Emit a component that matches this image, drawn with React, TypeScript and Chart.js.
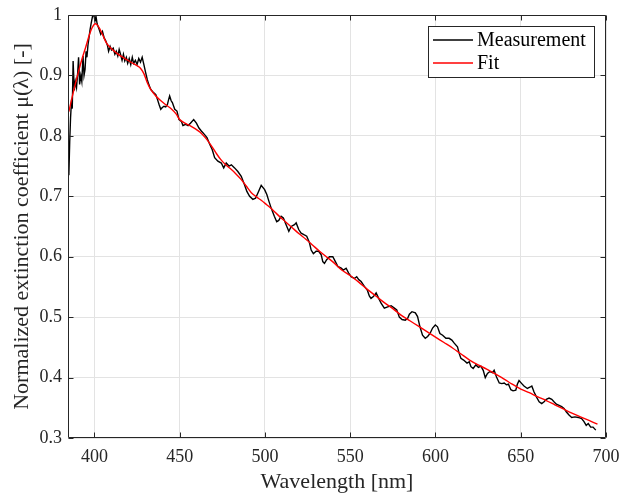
import React, { useEffect, useRef } from "react";
import { Chart, registerables } from "chart.js";

Chart.register(...registerables);

const seriesNames = ["Measurement", "Fit"];
const seriesColors = ["#000000", "#ff0000"];

const measWavelength = [
  385.0, 385.5, 386.0, 386.6, 387.0, 387.5, 388.2, 388.8, 389.5, 390.2, 390.7, 391.3, 392.0, 392.6, 393.3, 393.9,
  394.5, 395.1, 395.6, 396.2, 396.8, 397.4, 398.0, 398.9, 399.7, 400.3, 400.9, 401.6, 402.8, 403.7, 404.7, 405.7,
  406.7, 407.7, 408.3, 409.2, 410.0, 411.0, 412.0, 412.8, 413.7, 414.5, 415.3, 416.2, 417.0, 417.8, 418.7, 419.5,
  420.4, 421.3, 422.2, 423.0, 424.0, 425.0, 426.0, 427.0, 428.0, 429.0, 430.0, 431.0, 432.0, 433.0, 434.5, 436.0,
  437.0, 437.9, 438.9, 439.8, 440.8, 441.8, 442.8, 443.5, 444.1, 445.0, 445.7, 447.1, 448.4, 449.6, 451.0, 451.9,
  453.5, 454.9, 456.3, 458.2, 459.8, 461.3, 462.7, 464.6, 466.0, 467.6, 469.1, 470.5, 472.4, 474.4, 475.8, 477.3,
  478.9, 480.3, 482.2, 484.1, 486.1, 488.0, 489.4, 491.0, 492.9, 494.5, 495.8, 497.8, 499.8, 501.1, 502.3, 503.7,
  505.5, 506.9, 508.1, 509.5, 510.8, 512.4, 514.0, 515.4, 517.3, 518.3, 519.8, 521.2, 523.1, 524.5, 526.1, 527.1,
  528.4, 530.0, 531.5, 533.0, 533.9, 534.9, 536.2, 537.8, 539.8, 541.3, 542.7, 544.7, 546.0, 547.6, 549.1, 550.5,
  552.5, 553.8, 555.0, 556.4, 558.3, 560.0, 561.2, 562.2, 563.6, 565.2, 566.7, 568.1, 570.0, 572.0, 574.0, 575.9,
  577.3, 578.8, 580.4, 582.3, 583.7, 584.7, 586.2, 588.2, 589.5, 590.9, 592.4, 594.0, 595.4, 596.8, 598.3, 599.9,
  601.2, 602.6, 604.2, 606.1, 608.0, 609.6, 611.0, 612.9, 613.9, 614.9, 616.5, 618.5, 619.8, 620.8, 622.1, 623.7,
  625.2, 626.6, 628.0, 629.2, 630.5, 631.9, 633.4, 634.4, 635.8, 637.4, 638.9, 640.3, 641.6, 642.8, 644.2, 645.5,
  647.1, 648.0, 649.0, 650.6, 651.9, 653.9, 655.3, 656.5, 657.8, 659.2, 660.8, 662.3, 663.7, 665.0, 666.6, 668.2,
  669.5, 670.9, 672.5, 674.0, 675.4, 676.8, 678.3, 679.9, 681.8, 683.8, 685.7, 687.1, 688.4, 689.6, 691.0, 692.4,
  694.0,
];

const measValue = [
  0.735, 0.79, 0.83, 0.86, 0.845, 0.924, 0.875, 0.89, 0.88, 0.905, 0.93, 0.885, 0.9, 0.89, 0.932, 0.9,
  0.91, 0.94, 0.93, 0.95, 0.962, 0.975, 0.985, 0.998, 1.0, 0.99, 0.998, 0.985, 0.976, 0.968, 0.973, 0.962,
  0.957, 0.949, 0.94, 0.948, 0.942, 0.945, 0.935, 0.94, 0.932, 0.943, 0.935, 0.925, 0.935, 0.924, 0.93, 0.92,
  0.928, 0.918, 0.93, 0.92, 0.925, 0.918, 0.928, 0.922, 0.93, 0.918, 0.905, 0.893, 0.884, 0.877, 0.872, 0.868,
  0.86, 0.852, 0.844, 0.847, 0.849, 0.848, 0.852, 0.86, 0.866, 0.858, 0.855, 0.844, 0.841, 0.827, 0.824, 0.817,
  0.819, 0.817, 0.821, 0.827, 0.821, 0.813, 0.808, 0.802, 0.797, 0.786, 0.777, 0.764, 0.758, 0.755, 0.747, 0.755,
  0.75, 0.752, 0.747, 0.741, 0.733, 0.719, 0.708, 0.7, 0.695, 0.697, 0.705, 0.718, 0.711, 0.703, 0.692, 0.68,
  0.667, 0.658, 0.66, 0.667, 0.664, 0.653, 0.642, 0.65, 0.653, 0.656, 0.645, 0.639, 0.636, 0.634, 0.623, 0.611,
  0.605, 0.609, 0.609, 0.603, 0.592, 0.589, 0.595, 0.6, 0.6, 0.592, 0.584, 0.581, 0.578, 0.581, 0.573, 0.567,
  0.564, 0.567, 0.562, 0.559, 0.551, 0.545, 0.535, 0.531, 0.534, 0.54, 0.531, 0.523, 0.515, 0.517, 0.519, 0.515,
  0.512, 0.5, 0.496, 0.495, 0.498, 0.505, 0.509, 0.507, 0.501, 0.484, 0.47, 0.465, 0.468, 0.473, 0.482, 0.487,
  0.484, 0.473, 0.47, 0.465, 0.465, 0.462, 0.457, 0.451, 0.44, 0.432, 0.429, 0.424, 0.426, 0.418, 0.415, 0.421,
  0.417, 0.419, 0.412, 0.4, 0.407, 0.41, 0.408, 0.412, 0.401, 0.391, 0.39, 0.391, 0.388, 0.389, 0.38, 0.378,
  0.379, 0.389, 0.395, 0.39, 0.386, 0.382, 0.384, 0.386, 0.376, 0.368, 0.36, 0.357, 0.36, 0.364, 0.366, 0.364,
  0.36, 0.356, 0.354, 0.352, 0.349, 0.343, 0.338, 0.334, 0.335, 0.334, 0.332, 0.327, 0.321, 0.324, 0.318, 0.318,
  0.313,
];

const fitWavelength = [
  385, 387, 389, 391, 393, 395, 397, 398.5, 400, 401.5, 403, 405, 407, 410, 413, 416, 419, 422, 425, 427, 429,
  431, 433, 436, 439, 442, 445, 448, 450, 453, 456, 459, 462, 465, 468, 471, 474, 477, 480, 483, 486, 489, 492,
  495, 498, 501, 504, 508, 512, 516, 520, 524, 528, 532, 536, 540, 545, 550, 555, 560, 565, 570, 575, 580, 585,
  590, 595, 600, 605, 610, 615, 620, 625, 630, 635, 640, 645, 650, 655, 660, 665, 670, 675, 680, 685, 690, 695,
];

const fitValue = [
  0.84, 0.865, 0.888, 0.91, 0.93, 0.948, 0.967, 0.978, 0.985, 0.984, 0.978, 0.966, 0.954, 0.944, 0.937, 0.931,
  0.926, 0.921, 0.916, 0.912, 0.903, 0.888, 0.877, 0.866, 0.858, 0.851, 0.845, 0.836, 0.827, 0.821, 0.817, 0.812,
  0.806, 0.797, 0.786, 0.773, 0.761, 0.752, 0.745, 0.737, 0.728, 0.717, 0.706, 0.699, 0.693, 0.686, 0.679, 0.668,
  0.658, 0.648, 0.638, 0.629, 0.619, 0.609, 0.6, 0.591, 0.578, 0.569, 0.558, 0.546, 0.535, 0.524, 0.514, 0.503,
  0.494, 0.485, 0.476, 0.467, 0.458, 0.449, 0.439, 0.429, 0.421, 0.414, 0.406, 0.398, 0.389, 0.381, 0.375, 0.368,
  0.362, 0.355, 0.348, 0.341, 0.335, 0.329, 0.323,
];

const xTickValues = [400, 450, 500, 550, 600, 650, 700];
const yTickValues = [0.3, 0.4, 0.5, 0.6, 0.7, 0.8, 0.9, 1];
const xRange = [384.5, 700];
const yRange = [0.3, 1];
const xTitle = "Wavelength [nm]";
const yTitle = "Normalized extinction coefficient \u03bc(\u03bb) [-]";

const FONT = "'Liberation Serif', 'DejaVu Serif', serif";
const AXIS_COLOR = "#262626";

const framePlugin = {
  id: "matlabFrame",
  afterDraw(chart: any) {
    const { ctx, chartArea: a, scales } = chart;
    ctx.save();
    ctx.strokeStyle = AXIS_COLOR;
    ctx.lineWidth = 1;
    const L = Math.round(a.left) + 0.5;
    const R = Math.round(a.right) - 0.5;
    const T = Math.round(a.top) + 0.5;
    const B = Math.round(a.bottom) - 0.5;
    ctx.beginPath();
    ctx.rect(L, T, R - L, B - T);
    ctx.stroke();
    const tl = 5;
    ctx.beginPath();
    for (const v of xTickValues) {
      const px = Math.round(scales.x.getPixelForValue(v)) + 0.5;
      ctx.moveTo(px, B);
      ctx.lineTo(px, B - tl);
      ctx.moveTo(px, T);
      ctx.lineTo(px, T + tl);
    }
    for (const v of yTickValues) {
      const py = Math.round(scales.y.getPixelForValue(v)) + 0.5;
      ctx.moveTo(L, py);
      ctx.lineTo(L + tl, py);
      ctx.moveTo(R, py);
      ctx.lineTo(R - tl, py);
    }
    ctx.stroke();

    // legend box
    const bx = 428.5, by = 26.5, bw = 166, bh = 51;
    ctx.fillStyle = "#ffffff";
    ctx.fillRect(bx, by, bw, bh);
    ctx.strokeStyle = AXIS_COLOR;
    ctx.strokeRect(bx, by, bw, bh);
    const rows = [40, 63];
    ctx.font = `20px ${FONT}`;
    ctx.textBaseline = "middle";
    ctx.textAlign = "left";
    seriesNames.forEach((name, i) => {
      const ds = chart.data.datasets.find((d: any) => d.label === name);
      ctx.strokeStyle = ds.borderColor;
      ctx.lineWidth = 1.4;
      ctx.beginPath();
      ctx.moveTo(433, rows[i]);
      ctx.lineTo(473, rows[i]);
      ctx.stroke();
      ctx.fillStyle = "#000000";
      ctx.fillText(name, 477, rows[i] + 1);
    });
    ctx.restore();
  },
};

export default function App() {
  const canvasRef = useRef<HTMLCanvasElement | null>(null);

  useEffect(() => {
    if (!canvasRef.current) return;
    const measData = measWavelength.map((x, i) => ({ x, y: measValue[i] }));
    const fitData = fitWavelength.map((x, i) => ({ x, y: fitValue[i] }));
    const chart = new Chart(canvasRef.current, {
      type: "scatter",
      data: {
        datasets: [
          {
            label: seriesNames[0],
            data: measData,
            showLine: true,
            borderColor: seriesColors[0],
            backgroundColor: seriesColors[0],
            borderWidth: 1.4,
            pointRadius: 0,
            tension: 0,
            order: 1,
          },
          {
            label: seriesNames[1],
            data: fitData,
            showLine: true,
            borderColor: seriesColors[1],
            backgroundColor: seriesColors[1],
            borderWidth: 1.4,
            pointRadius: 0,
            tension: 0.3,
            order: 0,
          },
        ],
      },
      options: {
        animation: false,
        responsive: false,
        devicePixelRatio: 1,
        layout: { padding: { top: 15, right: 15, left: 0, bottom: 0 } },
        plugins: { legend: { display: false }, tooltip: { enabled: false } },
        scales: {
          x: {
            type: "linear",
            min: xRange[0],
            max: xRange[1],
            afterBuildTicks: (s: any) => {
              s.ticks = xTickValues.map((v) => ({ value: v }));
            },
            afterFit: (s: any) => {
              s.height = 55;
              s.paddingLeft = 0;
              s.paddingRight = 0;
            },
            grid: { color: "#e3e3e3", lineWidth: 1, drawTicks: false },
            border: { display: false },
            ticks: {
              color: AXIS_COLOR,
              font: { family: FONT, size: 18 },
              padding: 8,
              maxRotation: 0,
              callback: (v: any) => String(v),
            },
            title: {
              display: true,
              text: xTitle,
              color: AXIS_COLOR,
              font: { family: FONT, size: 22, lineHeight: 1.0 },
              padding: { top: 0, bottom: 0 },
            },
          },
          y: {
            type: "linear",
            min: yRange[0],
            max: yRange[1],
            afterBuildTicks: (s: any) => {
              s.ticks = yTickValues.map((v) => ({ value: v }));
            },
            afterFit: (s: any) => {
              s.width = 68;
              s.paddingTop = 0;
              s.paddingBottom = 0;
            },
            grid: { color: "#e3e3e3", lineWidth: 1, drawTicks: false },
            border: { display: false },
            ticks: {
              color: AXIS_COLOR,
              font: { family: FONT, size: 18 },
              padding: 6,
              callback: (v: any) => String(Number(Number(v).toFixed(1))),
            },
            title: {
              display: true,
              text: yTitle,
              color: AXIS_COLOR,
              font: { family: FONT, size: 22, lineHeight: 1.2 },
              padding: { top: 9, bottom: 0 },
            },
          },
        },
      },
      plugins: [framePlugin],
    });
    return () => chart.destroy();
  }, []);

  return (
    <div style={{ position: "absolute", left: 0, top: 0, width: 621, height: 493, background: "#ffffff" }}>
      <canvas ref={canvasRef} width={621} height={493} style={{ display: "block" }} />
    </div>
  );
}
